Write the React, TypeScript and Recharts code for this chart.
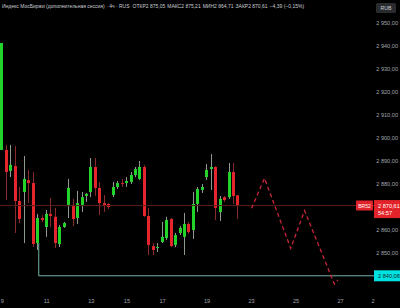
import { ComposedChart, Bar, Line, XAxis, YAxis, ReferenceLine } from "recharts";

// 4h candles, MOEX index (additional session)
const opens = [
  2894.8, 2894.8, 2885.7, 2887.8, 2872.6, 2876.5, 2881.7, 2880.4, 2854.3, 2865.2,
  2861.3, 2867.0, 2865.7, 2853.9, 2861.3, 2870.9, 2870.9, 2865.2, 2870.9, 2874.8,
  2876.5, 2887.4, 2878.3, 2871.7, 2871.3, 2875.2, 2878.7, 2880.4, 2880.4, 2880.9,
  2883.9, 2882.2, 2887.4, 2866.1, 2853.0, 2852.2, 2854.8, 2856.5, 2864.8, 2853.5,
  2858.7, 2857.0, 2862.6, 2860.0, 2871.3, 2877.4, 2883.0, 2886.5, 2887.4, 2867.8,
  2874.3, 2874.3, 2885.2, 2875.05,
];
const highs = [
  2941.3, 2897.0, 2897.0, 2896.5, 2878.7, 2892.2, 2886.1, 2885.2, 2867.0, 2866.5,
  2868.7, 2873.9, 2869.6, 2862.2, 2863.5, 2882.2, 2873.5, 2877.0, 2876.5, 2876.1,
  2891.3, 2891.3, 2880.9, 2875.2, 2871.7, 2880.9, 2881.3, 2882.2, 2883.0, 2885.2,
  2887.4, 2890.0, 2888.3, 2869.6, 2854.3, 2854.3, 2863.5, 2865.7, 2865.2, 2858.7,
  2861.7, 2867.4, 2863.5, 2876.5, 2878.7, 2880.0, 2888.7, 2893.0, 2887.8, 2874.8,
  2874.8, 2889.1, 2889.1, 2875.21,
];
const lows = [
  2894.8, 2873.0, 2883.0, 2858.7, 2863.0, 2854.3, 2871.7, 2852.6, 2851.3, 2863.5,
  2857.0, 2861.3, 2852.2, 2852.6, 2860.9, 2865.2, 2861.7, 2862.6, 2867.8, 2872.2,
  2874.3, 2874.8, 2866.5, 2867.8, 2869.1, 2874.3, 2877.8, 2878.7, 2878.7, 2880.0,
  2883.0, 2881.7, 2865.7, 2849.1, 2849.1, 2850.4, 2854.3, 2855.7, 2852.6, 2852.6,
  2857.8, 2849.1, 2858.3, 2856.1, 2867.8, 2876.1, 2881.7, 2877.4, 2864.3, 2863.9,
  2872.2, 2873.5, 2871.3, 2864.71,
];
const closes = [
  2941.3, 2885.2, 2888.3, 2872.6, 2864.8, 2882.2, 2880.4, 2853.9, 2865.2, 2864.3,
  2867.0, 2866.1, 2854.3, 2861.3, 2863.0, 2878.3, 2864.8, 2871.7, 2874.3, 2875.7,
  2887.4, 2878.3, 2871.7, 2870.4, 2870.0, 2878.7, 2880.4, 2880.0, 2881.3, 2883.9,
  2886.5, 2887.4, 2866.1, 2853.5, 2851.3, 2852.6, 2857.0, 2864.3, 2853.0, 2857.8,
  2860.9, 2862.6, 2859.1, 2871.3, 2877.8, 2878.7, 2886.1, 2887.4, 2869.6, 2873.5,
  2873.0, 2885.2, 2874.8, 2870.61,
];

// hand-drawn zigzag projection
const forecastSlots = [56, 58.9, 64.8, 67.9, 74.6, 75.4];
const forecastValues = [2869.4, 2882.5, 2852.0, 2868.4, 2836.5, 2838.3];

const xTickSlots = [0, 10, 20, 28, 36, 46, 56, 66, 76, 83.3];
const xTickLabels = ["9", "11", "13", "15", "17", "19", "23", "25", "27", "2"];
const yTicks = [2850, 2860, 2880, 2890, 2900, 2910, 2920, 2930, 2940, 2950];

const lastPrice = 2870.61;
const lineLevel = 2840.08;
const lineStartSlot = 8.2;
const lineStartValue = 2854.3;

const GREEN = "#22d42a";
const RED = "#e4252b";
const FONT = "'Liberation Sans', Arial, sans-serif";

const candles = opens.map((o, i) => ({
  i,
  o,
  h: highs[i],
  l: lows[i],
  c: closes[i],
}));
const forecast = forecastSlots.map((i, k) => ({ i, v: forecastValues[k] }));

const fmt = (v: number) => {
  const [a, b = "00"] = v.toFixed(2).split(".");
  return `${a.slice(0, 1)} ${a.slice(1)},${b}`;
};

function Candle(props: any) {
  const { x, y, width, height, payload } = props;
  if (!payload) return null;
  const { o, h, l, c } = payload;
  const top = Math.min(y, y + height);
  const span = Math.abs(height);
  const k = span / (h - l);
  const up = c >= o;
  const bodyTop = top + (h - Math.max(o, c)) * k;
  const bodyH = Math.max(1, Math.abs(o - c) * k);
  const left = Math.round(x);
  const cx = left + 1.5;
  return (
    <g>
      <line
        x1={cx}
        x2={cx}
        y1={top}
        y2={top + span}
        stroke={up ? "#8f9a8f" : "#8a2a2a"}
        strokeWidth={1}
      />
      <rect x={left} y={bodyTop} width={3} height={bodyH} fill={up ? GREEN : RED} />
    </g>
  );
}

function XTick(props: any) {
  const { x, payload } = props;
  const idx = xTickSlots.indexOf(payload.value);
  return (
    <text x={x} y={303} textAnchor="middle" fontSize={5.6} fill="#a3a6af" fontFamily={FONT}>
      {xTickLabels[idx]}
    </text>
  );
}

function YTick(props: any) {
  const { y, payload } = props;
  return (
    <text x={398} y={y + 2} textAnchor="end" fontSize={5.6} fill="#a3a6af" fontFamily={FONT}>
      {fmt(payload.value)}
    </text>
  );
}

function PriceTag(props: any) {
  const { viewBox } = props;
  if (!viewBox) return null;
  const right = viewBox.x + viewBox.width;
  const y = viewBox.y;
  return (
    <g fontFamily={FONT}>
      <rect x={right - 18} y={y - 5} width={17} height={10} fill="#e3232a" rx={1} />
      <text x={right - 9.5} y={y + 2} textAnchor="middle" fontSize={5} fill="#fff">
        BR52
      </text>
      <rect x={right} y={y - 5.5} width={26} height={18} fill="#e3232a" />
      <text x={right + 4} y={y + 2} fontSize={5.6} fill="#fff">
        {fmt(lastPrice)}
      </text>
      <text x={right + 4} y={y + 9.5} fontSize={5.6} fill="#fff">
        54:57
      </text>
    </g>
  );
}

function LevelTag(props: any) {
  const { viewBox } = props;
  if (!viewBox) return null;
  const right = viewBox.x + viewBox.width;
  const y = viewBox.y;
  return (
    <g fontFamily={FONT}>
      <rect x={right} y={y - 5.5} width={26} height={11} fill="#00e2e2" />
      <text x={right + 4} y={y + 2} fontSize={5.6} fill="#0b2a2a">
        {fmt(lineLevel)}
      </text>
    </g>
  );
}

export default function App() {
  return (
    <div
      style={{
        position: "fixed",
        left: 0,
        top: 0,
        width: 400,
        height: 308,
        background: "#000",
      }}
    >
      <ComposedChart
        width={400}
        height={308}
        data={candles}
        margin={{ top: 16, right: 0, bottom: 0, left: 0 }}
      >
        <XAxis
          dataKey="i"
          type="number"
          domain={[-0.5, 83.5]}
          ticks={xTickSlots}
          tick={<XTick />}
          tickLine={false}
          axisLine={false}
          height={18}
          interval={0}
          allowDataOverflow
        />
        <YAxis
          orientation="right"
          type="number"
          domain={[2833.9, 2953.05]}
          ticks={yTicks}
          tick={<YTick />}
          tickLine={false}
          axisLine={false}
          width={26}
          interval={0}
          allowDataOverflow
        />
        <ReferenceLine y={lastPrice} stroke="#5a1e1e" strokeWidth={1} label={<PriceTag />} />
        <ReferenceLine
          segment={[
            { x: lineStartSlot, y: lineLevel },
            { x: 83.5, y: lineLevel },
          ]}
          stroke="#74b3a7"
          strokeWidth={1}
          label={<LevelTag />}
        />
        <ReferenceLine
          segment={[
            { x: lineStartSlot, y: lineStartValue },
            { x: lineStartSlot, y: lineLevel },
          ]}
          stroke="#74b3a7"
          strokeWidth={1}
        />
        <Bar
          dataKey={(d: any) => [d.l, d.h]}
          barSize={3}
          shape={<Candle />}
          isAnimationActive={false}
        />
        <Line
          data={forecast}
          dataKey="v"
          stroke="#c9253b"
          strokeWidth={1.3}
          strokeDasharray="4 3"
          dot={false}
          isAnimationActive={false}
        />
      </ComposedChart>
      <svg
        width={400}
        height={16}
        style={{ position: "absolute", left: 0, top: 0 }}
        fontFamily={FONT}
      >
        <text x={2} y={8} fontSize={5} fill="#c9ccd4">
          Индекс МосБиржи (дополнительная сессия) · 4ч · RUS
          <tspan dx={3}>ОТКР</tspan>
          <tspan>2 875,05</tspan>
          <tspan dx={2}>МАКС</tspan>
          <tspan>2 875,21</tspan>
          <tspan dx={2}>МИН</tspan>
          <tspan>2 864,71</tspan>
          <tspan dx={2}>ЗАКР</tspan>
          <tspan>2 870,61</tspan>
          <tspan dx={2}>−4,39 (−0,15%)</tspan>
        </text>
        <rect x={376} y={3} width={20} height={10} rx={1.5} fill="#2a2b2f" />
        <text x={386} y={10} textAnchor="middle" fontSize={5.2} fill="#c9ccd4">
          RUB
        </text>
      </svg>
    </div>
  );
}
